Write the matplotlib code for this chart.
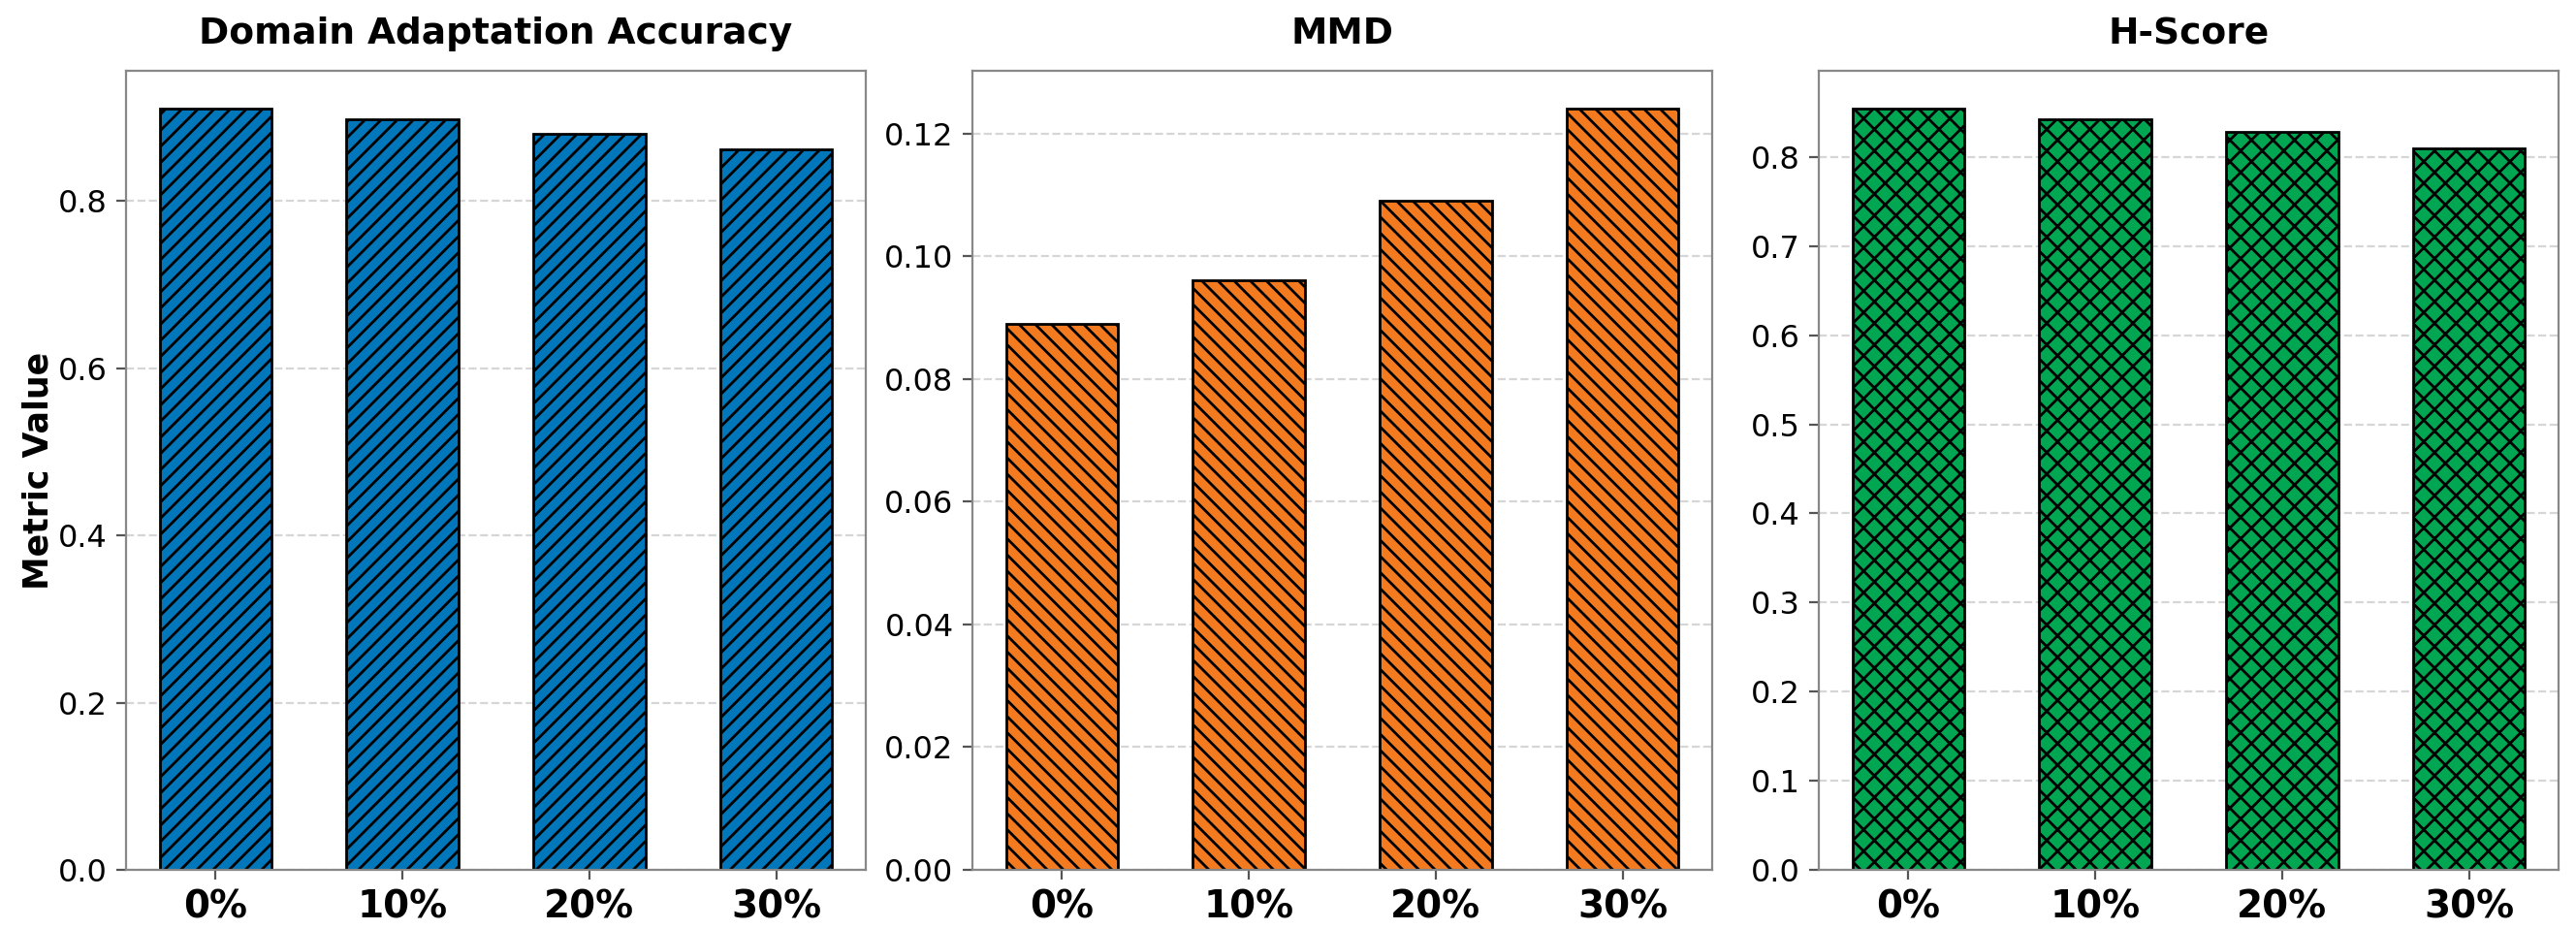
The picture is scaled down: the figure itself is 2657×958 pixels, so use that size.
import matplotlib
matplotlib.use("Agg")
import matplotlib.pyplot as plt
from matplotlib.ticker import MultipleLocator

# Data
categories = ["0%", "10%", "20%", "30%"]
titles = ["Domain Adaptation Accuracy", "MMD", "H-Score"]
accuracy = [0.910, 0.897, 0.880, 0.862]
mmd = [0.089, 0.096, 0.109, 0.124]
hscore = [0.854, 0.842, 0.828, 0.810]
series = [accuracy, mmd, hscore]
colors = ["#0077BB", "#F47A20", "#00A651"]
hatches = ["////", "\\\\\\\\", "xxx"]
tick_steps = [0.2, 0.02, 0.1]

plt.rcParams["font.family"] = ["DejaVu Sans"]
plt.rcParams["hatch.linewidth"] = 1.0

W, H = 2657, 958
dpi = 200
fig = plt.figure(figsize=(W / dpi, H / dpi), dpi=dpi)

lefts = [130, 1003, 1876]
ax_w = 763
top, bottom = 73, 897

for i in range(3):
    ax = fig.add_axes([lefts[i] / W, 1 - bottom / H, ax_w / W, (bottom - top) / H])
    vals = series[i]
    x = list(range(len(categories)))
    ax.bar(x, vals, width=0.6, color=colors[i], edgecolor="black",
           linewidth=1.0, hatch=hatches[i], zorder=2)
    ax.set_ylim(0, max(vals) * 1.05)
    ax.set_xticks(x)
    ax.set_xticklabels(categories, fontsize=14, fontweight="bold")
    ax.yaxis.set_major_locator(MultipleLocator(tick_steps[i]))
    ax.tick_params(axis="y", labelsize=11.5, color="#555555")
    ax.tick_params(axis="x", color="#555555")
    ax.set_title(titles[i], fontsize=13.5, fontweight="bold", pad=10)
    ax.grid(axis="y", linestyle="--", color="#cccccc", alpha=0.8, linewidth=0.8)
    ax.set_axisbelow(True)
    for s in ax.spines.values():
        s.set_color("#888888")
        s.set_linewidth(0.8)
    if i == 0:
        ax.set_ylabel("Metric Value", fontsize=12.5, fontweight="bold", labelpad=1)

fig.savefig("out.png", dpi=dpi)
